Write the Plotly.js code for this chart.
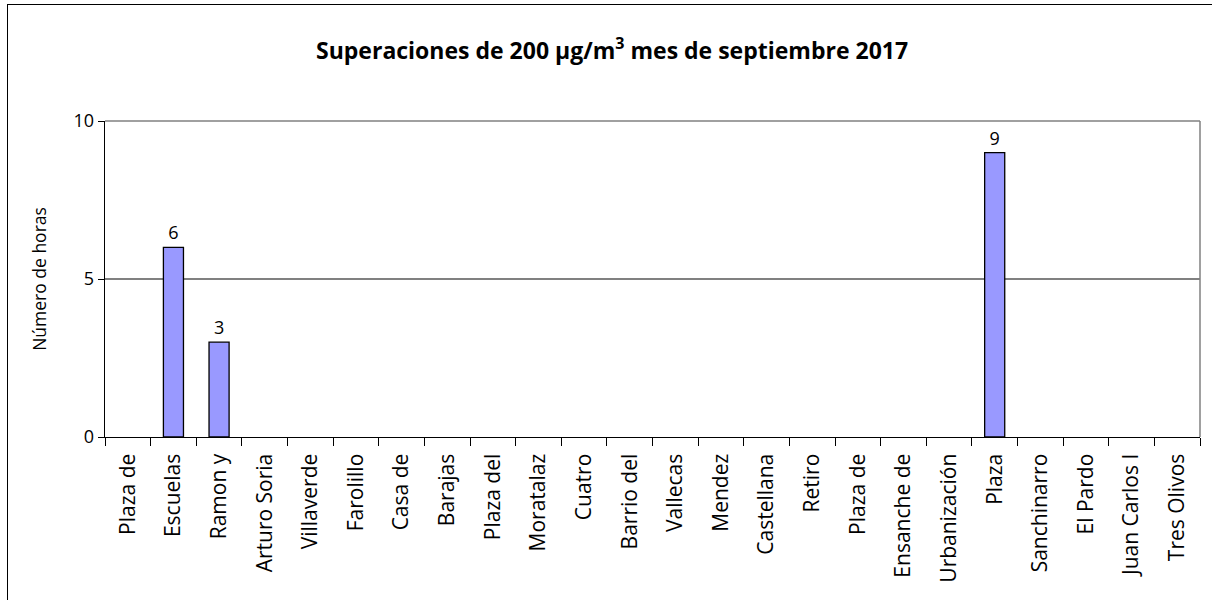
<!DOCTYPE html>
<html>
<head>
<meta charset="utf-8">
<script src="https://cdn.plot.ly/plotly-3.0.1.min.js"></script>
<style>
  html, body { margin: 0; padding: 0; background: #fff; }
  #wrap { position: relative; width: 1212px; height: 600px; }
  #chart { width: 1212px; height: 600px; }
  #frame { position: absolute; left: 7px; top: 4px; width: 1220px; height: 620px;
           border-left: 1px solid #000; border-top: 1px solid #000; pointer-events: none; }
</style>
</head>
<body>
<div id="wrap">
  <div id="chart"></div>
  <div id="frame"></div>
</div>
<script>
const stations = ["Plaza de", "Escuelas", "Ramon y", "Arturo Soria", "Villaverde", "Farolillo",
  "Casa de", "Barajas", "Plaza del", "Moratalaz", "Cuatro", "Barrio del", "Vallecas", "Mendez",
  "Castellana", "Retiro", "Plaza de", "Ensanche de", "Urbanización", "Plaza", "Sanchinarro",
  "El Pardo", "Juan Carlos I", "Tres Olivos"];
const hours = [0, 6, 3, 0, 0, 0, 0, 0, 0, 0, 0, 0, 0, 0, 0, 0, 0, 0, 0, 9, 0, 0, 0, 0];
const yTicks = [0, 5, 10];
const titleText = "Superaciones de 200 µg/m<sup>3</sup> mes de septiembre 2017";
const yTitle = "Número de horas";

const idx = stations.map((s, i) => i);
const labels = hours.map(v => v > 0 ? String(v) : " ");
const outline = hours.map(v => v > 0 ? 1.3 : 0);

const FONT = "Open Sans, DejaVu Sans, sans-serif";

const trace = {
  type: "bar",
  x: idx,
  y: hours,
  text: labels,
  textposition: "outside",
  cliponaxis: false,
  textfont: { family: FONT, size: 18, color: "#000" },
  marker: { color: "#9999ff", line: { color: "#000", width: outline } },
  hoverinfo: "x+y"
};

const layout = {
  width: 1212, height: 600,
  margin: { l: 105, r: 12, t: 121, b: 163, pad: 0 },
  paper_bgcolor: "#fff", plot_bgcolor: "#fff",
  showlegend: false,
  bargap: 0.56,
  title: { text: titleText, x: 0.505, xanchor: "center", y: 0.915, yanchor: "middle",
           font: { family: FONT, size: 23, color: "#000", weight: "bold" } },
  xaxis: {
    range: [-0.5, stations.length - 0.5],
    tickmode: "array", tickvals: idx, ticktext: stations,
    tickangle: -90, ticks: "", ticklen: 0, ticklabelstandoff: 7,
    tickfont: { family: FONT, size: 21, color: "#000" },
    showline: true, linecolor: "#000", linewidth: 1.3,
    showgrid: false, zeroline: false, fixedrange: true,
    minor: { tickmode: "linear", tick0: -0.5, dtick: 1, ticks: "outside", ticklen: 8,
             tickcolor: "#000", tickwidth: 1, showgrid: false }
  },
  yaxis: {
    range: [0, 10],
    tickmode: "array", tickvals: yTicks,
    ticks: "outside", ticklen: 6, tickcolor: "#000", tickwidth: 1,
    tickfont: { family: FONT, size: 18, color: "#000" },
    showline: true, linecolor: "#000", linewidth: 1.3,
    showgrid: true, gridcolor: "#808080", gridwidth: 1.3,
    zeroline: false, fixedrange: true,
    title: { text: yTitle, standoff: 22, font: { family: FONT, size: 17.5, color: "#000" } }
  },
  shapes: [
    { type: "line", xref: "paper", yref: "paper", x0: 1, x1: 1, y0: 0, y1: 1,
      line: { color: "#808080", width: 1.5 } },
    { type: "line", xref: "paper", yref: "paper", x0: 0, x1: 1, y0: 1, y1: 1,
      line: { color: "#808080", width: 1.5 } }
  ]
};

Plotly.newPlot("chart", [trace], layout, { displayModeBar: false, staticPlot: true });
</script>
</body>
</html>
